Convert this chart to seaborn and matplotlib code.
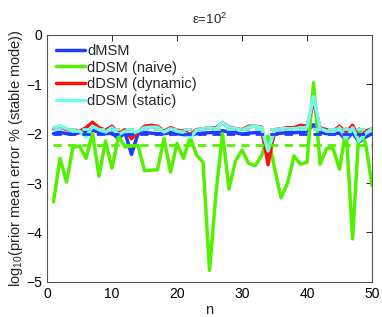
import numpy as np
import pandas as pd
import matplotlib
matplotlib.use("Agg")
import matplotlib.pyplot as plt
import seaborn as sns

n = list(range(1, 51))

dmsm = [-2.0, -1.97, -2.0, -2.01, -1.98, -1.97, -1.93, -1.97, -2.0, -1.99,
        -2.1, -1.98, -2.42, -2.0, -1.98, -1.99, -2.0, -2.0, -1.98, -2.0,
        -2.02, -2.03, -2.0, -1.99, -1.98, -1.97, -1.94, -1.97, -1.98, -2.01,
        -1.99, -1.98, -1.97, -2.42, -2.0, -1.99, -1.98, -1.98, -1.97, -1.95,
        -1.82, -1.97, -2.0, -1.99, -1.99, -2.12, -1.98, -2.17, -2.07, -2.0]

naive = [-3.38, -2.5, -2.98, -2.28, -2.25, -2.5, -2.0, -2.86, -2.15, -2.7,
         -2.05, -2.27, -2.25, -2.24, -2.75, -2.74, -2.73, -2.1, -2.78, -2.2,
         -2.5, -2.07, -2.43, -2.58, -4.77, -3.2, -2.0, -3.12, -2.55, -2.33,
         -2.6, -2.65, -2.45, -2.05, -2.7, -3.3, -3.0, -2.45, -2.62, -2.58,
         -0.97, -2.62, -2.3, -2.3, -2.72, -1.9, -4.13, -1.9, -2.2, -3.05]

dynamic = [-1.9, -1.85, -1.92, -1.93, -1.95, -1.88, -1.77, -1.88, -1.93, -1.85,
           -2.0, -1.92, -2.1, -1.97, -1.85, -1.83, -1.85, -1.95, -1.88, -1.93,
           -1.95, -2.02, -1.92, -1.9, -1.88, -1.88, -1.78, -1.87, -1.9, -1.92,
           -1.85, -1.85, -1.87, -2.63, -1.92, -1.9, -1.88, -1.88, -1.83, -1.85,
           -1.35, -1.88, -1.92, -1.95, -1.85, -1.98, -1.83, -2.1, -1.95, -1.9]

static = [-1.88, -1.84, -1.9, -1.95, -1.95, -2.07, -1.85, -1.92, -1.97, -1.88,
          -2.02, -1.95, -2.0, -1.95, -1.88, -1.87, -1.87, -1.97, -1.9, -1.95,
          -1.97, -2.08, -1.93, -1.9, -1.88, -1.9, -1.77, -1.88, -1.9, -1.93,
          -1.87, -1.85, -1.88, -2.35, -1.93, -1.9, -1.9, -1.9, -1.88, -1.88,
          -1.25, -1.9, -1.95, -1.97, -1.88, -2.1, -1.88, -2.15, -2.0, -1.9]

labels = ["dMSM", "dDSM (naive)", "dDSM (dynamic)", "dDSM (static)"]
series = [dmsm, naive, dynamic, static]
# mean levels shown as dashed lines
levels = [-2.0, -2.22, -1.9, -1.9]
colors = ["#1e3cff", "#55f000", "#ff1010", "#70fce8"]

sns.set_style("white")
plt.rcParams["font.family"] = ["Liberation Sans", "DejaVu Sans"]
plt.rcParams["mathtext.fontset"] = "custom"
plt.rcParams["mathtext.rm"] = "Liberation Sans"
plt.rcParams["mathtext.it"] = "Liberation Sans:italic"

fig = plt.figure(figsize=(3.82, 3.17), dpi=100)
ax = fig.add_axes([0.123, 0.111, 0.851, 0.779])

for lab, vals, col in zip(labels, series, colors):
    df = pd.DataFrame({"n": n, "v": vals})
    sns.lineplot(data=df, x="n", y="v", color=col, lw=2.5, label=lab, ax=ax)

for lvl, col in zip(levels, colors):
    ax.plot([n[0], n[-1]], [lvl, lvl], color=col, lw=2.0, ls=(0, (3, 2.2)))

ax.set_xlim(0, 50)
ax.set_ylim(-5, 0)
ax.set_xticks([0, 10, 20, 30, 40, 50])
ax.set_yticks([-5, -4, -3, -2, -1, 0])
ax.set_yticklabels(["\u22125", "\u22124", "\u22123", "\u22122", "\u22121", "0"])
ax.tick_params(direction="in", length=4, labelsize=10, top=True, right=True,
               colors="black", width=0.6)
for s in ax.spines.values():
    s.set_linewidth(0.8)
    s.set_color("#555555")

ax.set_xlabel("n", fontsize=10.5, labelpad=2)
ax.set_ylabel("log$_{10}$(prior mean error % (stable mode))", fontsize=10.5, labelpad=1)
ax.set_title("\u03b5=10$^2$", fontsize=9.5, pad=8)

leg = ax.legend(loc="upper left", frameon=False, fontsize=10.5, handlelength=2.0,
                handletextpad=0.15, borderaxespad=0.2, labelspacing=0.2)

fig.savefig("out.png", dpi=100)
